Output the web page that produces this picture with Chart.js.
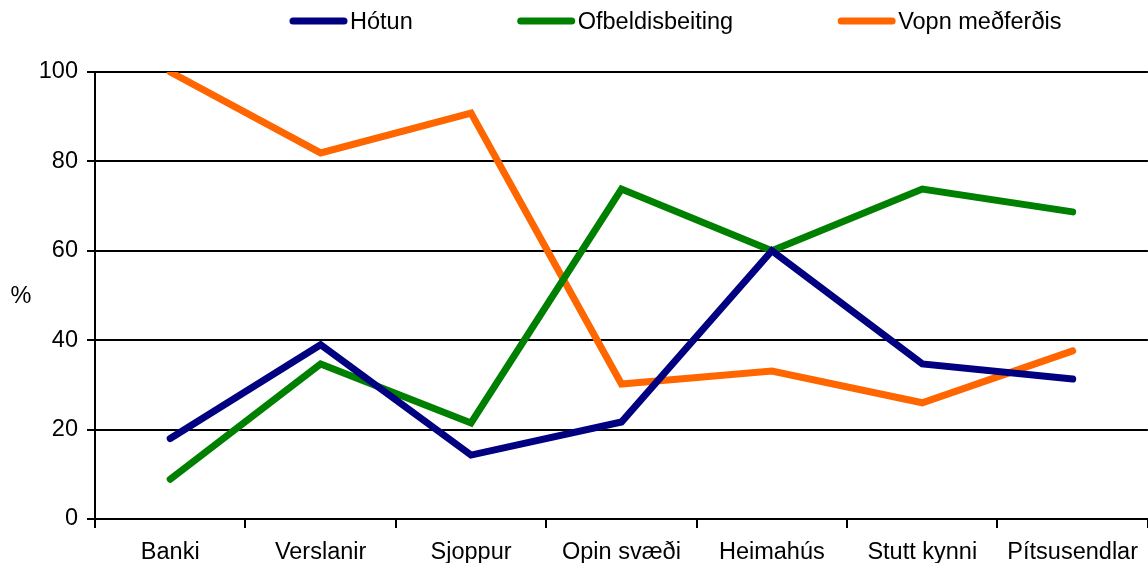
<!DOCTYPE html>
<html>
<head>
<meta charset="utf-8">
<script src="https://cdn.jsdelivr.net/npm/chart.js@4.4.1/dist/chart.umd.min.js"></script>
<style>
  html, body { margin: 0; padding: 0; background: #fff; }
  #wrap { width: 1148px; height: 563px; position: relative; }
</style>
</head>
<body>
<div id="wrap"><canvas id="graf"></canvas></div>
<script>
var flokkar = ['Banki', 'Verslanir', 'Sjoppur', 'Opin svæði', 'Heimahús', 'Stutt kynni', 'Pítsusendlar']
var hotun = [18, 39, 14.3, 21.7, 60, 34.7, 31.3]
var ofbeldi = [8.9, 34.7, 21.5, 73.8, 60, 73.8, 68.7]
var vopn = [100, 81.9, 90.8, 30.2, 33.1, 26, 37.6]
var yTikk = [0, 20, 40, 60, 80, 100]

var letur = '"Liberation Sans", Arial, sans-serif'
var stafStaerd = 23.5

// legend drawn by hand so it sits where the original one does
var eiginSkyring = {
    id: 'eiginSkyring',
    afterDraw: function (chart) {
        var ctx = chart.ctx
        ctx.save()
        ctx.font = stafStaerd + 'px ' + letur
        ctx.textBaseline = 'middle'
        var x = 290
        var y = 21
        chart.data.datasets.forEach(function (ds) {
            ctx.strokeStyle = ds.borderColor
            ctx.lineWidth = 7
            ctx.lineCap = 'round'
            ctx.beginPath()
            ctx.moveTo(x + 3, y)
            ctx.lineTo(x + 54, y)
            ctx.stroke()
            ctx.fillStyle = '#000'
            ctx.fillText(ds.label, x + 60, y + 2)
            x = x + 60 + ctx.measureText(ds.label).width + 105
        })
        // y axis unit
        ctx.textAlign = 'center'
        ctx.fillText('%', 21, (chart.chartArea.top + chart.chartArea.bottom) / 2 + 1)
        ctx.restore()
    }
}

function lina(nafn, gildi, litur) {
    return {
        label: nafn,
        data: gildi,
        borderColor: litur,
        backgroundColor: litur,
        borderWidth: 7,
        borderCapStyle: 'round',
        pointRadius: 0,
        tension: 0,
        fill: false
    }
}

var graf = new Chart('graf', {
    type: 'line',
    data: {
        labels: flokkar,
        datasets: [
            lina('Hótun', hotun, '#000080'),
            lina('Ofbeldisbeiting', ofbeldi, '#008000'),
            lina('Vopn meðferðis', vopn, '#FF6600')
        ]
    },
    plugins: [eiginSkyring],
    options: {
        responsive: true,
        maintainAspectRatio: false,
        animation: false,
        layout: { padding: { top: 72, left: 0, right: 0, bottom: 0 } },
        plugins: {
            legend: { display: false },
            tooltip: { enabled: false }
        },
        scales: {
            x: {
                offset: true,
                afterFit: function (s) { s.height = 44 },
                grid: {
                    offset: true,
                    drawOnChartArea: false,
                    drawTicks: true,
                    tickLength: 9,
                    color: '#000',
                    lineWidth: 2
                },
                border: { color: '#000', width: 2 },
                ticks: {
                    color: '#000',
                    font: { family: letur, size: stafStaerd },
                    padding: 10,
                    maxRotation: 0,
                    autoSkip: false
                }
            },
            y: {
                min: 0,
                max: 100,
                afterFit: function (s) { s.width = 95 },
                afterBuildTicks: function (s) {
                    s.ticks = yTikk.map(function (v) { return { value: v } })
                },
                grid: {
                    color: '#000',
                    lineWidth: 2,
                    tickLength: 8
                },
                border: { color: '#000', width: 2 },
                ticks: {
                    color: '#000',
                    font: { family: letur, size: stafStaerd },
                    padding: 9
                }
            }
        }
    }
})
</script>
</body>
</html>
